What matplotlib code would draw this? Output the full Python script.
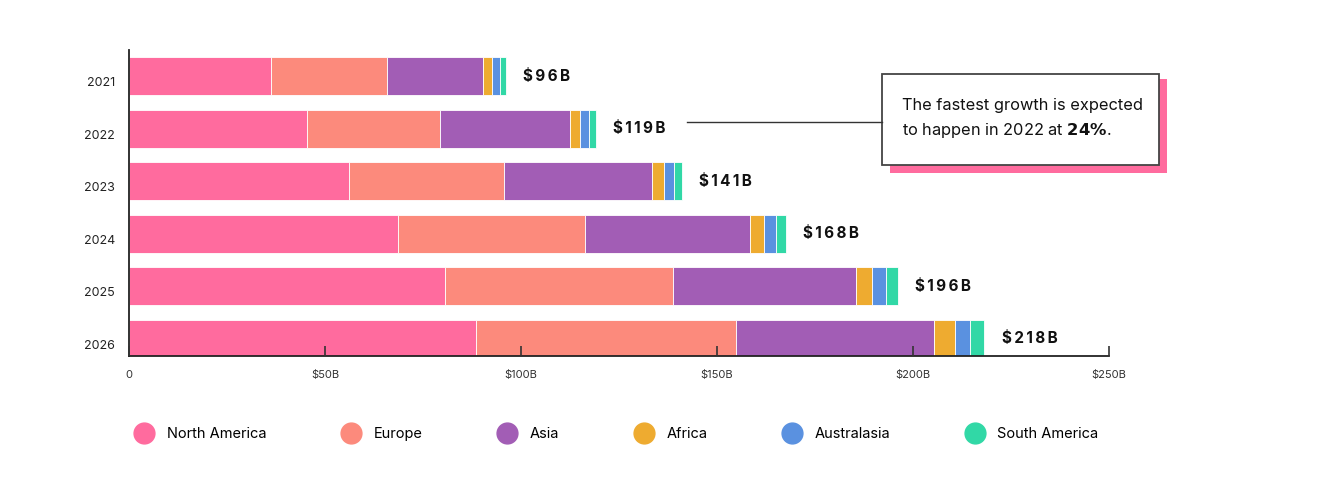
import matplotlib.pyplot as plt
import matplotlib.transforms as mtransforms
from matplotlib.patches import Rectangle
from matplotlib.lines import Line2D
import numpy as np

plt.rcParams['font.family'] = ['Inter', 'DejaVu Sans']

years = ['2021', '2022', '2023', '2024', '2025', '2026']
regions = ['North America', 'Europe', 'Asia', 'Africa', 'Australasia', 'South America']
north_america = [36.3, 45.4, 56.1, 68.7, 80.6, 88.5]
europe = [29.4, 33.9, 39.5, 47.7, 58.1, 66.4]
asia = [24.6, 33.1, 37.9, 42.1, 46.7, 50.5]
africa = [2.4, 2.65, 3.0, 3.6, 4.2, 5.2]
australasia = [1.9, 2.2, 2.5, 2.9, 3.4, 4.05]
south_america = [1.5, 1.8, 2.1, 2.6, 3.1, 3.5]
totals = [96, 119, 141, 168, 196, 218]
xticks = [0, 50, 100, 150, 200, 250]
xtick_labels = ['0', '$50B', '$100B', '$150B', '$200B', '$250B']

colors = ['#ff6b9e', '#fc8a7c', '#a25db5', '#eeab30', '#5a91e0', '#31d8a6']

W, H = 1336, 494


def main():
    fig = plt.figure(figsize=(W / 100, H / 100), dpi=100)
    ax = fig.add_axes([129 / W, 1 - 356 / H, 980 / W, 306 / H])

    series = [north_america, europe, asia, africa, australasia, south_america]
    ypos = np.arange(len(years))[::-1]
    left = np.zeros(len(years))
    for vals, c, name in zip(series, colors, regions):
        ax.barh(ypos, vals, left=left, height=0.72, color=c, edgecolor='white',
                linewidth=0.6, label=name, zorder=2)
        left += np.array(vals)

    for y, end, t in zip(ypos, left, totals):
        txt = '\u2009'.join('$' + str(t) + 'B')
        ax.annotate(txt, xy=(end, y), xytext=(12.5, 0),
                    textcoords='offset points', va='center', ha='left',
                    fontsize=11, fontweight='bold', color='#111111')

    ax.set_axisbelow(False)
    ax.set_xlim(0, 250)
    ax.set_ylim(-0.33, 5.5)
    ax.set_xticks(xticks)
    ax.set_xticklabels(xtick_labels, fontsize=8, color='#333333')
    ax.set_yticks(ypos)
    ax.set_yticklabels(years, fontsize=9, color='#222222')
    ax.tick_params(axis='x', direction='in', length=7, width=1.2, color='#333333', pad=10)
    ax.tick_params(axis='y', length=0, pad=10)
    offset = mtransforms.ScaledTranslation(0, -4 / 72, fig.dpi_scale_trans)
    for lab in ax.get_yticklabels():
        lab.set_transform(lab.get_transform() + offset)
    for s in ['top', 'right']:
        ax.spines[s].set_visible(False)
    ax.spines['left'].set_color('#222222')
    ax.spines['bottom'].set_color('#222222')
    ax.spines['left'].set_linewidth(1.3)
    ax.spines['bottom'].set_linewidth(1.3)

    # callout box
    fig.add_artist(Line2D([687 / W, 882 / W], [1 - 122 / H, 1 - 122 / H],
                          transform=fig.transFigure, color='#333333', lw=1))
    fig.add_artist(Rectangle((890 / W, 1 - 173 / H), 277 / W, 94 / H,
                             transform=fig.transFigure, facecolor='#ff6b9e',
                             edgecolor='none'))
    fig.add_artist(Rectangle((882 / W, 1 - 165 / H), 277 / W, 91 / H,
                             transform=fig.transFigure, facecolor='white',
                             edgecolor='#444444', lw=1.3))
    fig.text(902 / W, 1 - 105 / H, 'The fastest growth is expected',
             fontsize=11.8, va='center', ha='left', color='#111111')
    fig.text(902 / W, 1 - 131 / H, 'to happen in 2022 at $\\mathbf{24\\%}$.',
             fontsize=11.8, va='center', ha='left', color='#111111')

    handles = [Line2D([], [], marker='o', ms=15, color=c, linestyle='none')
               for c in colors]
    fig.legend(handles, regions, loc='center', bbox_to_anchor=(617 / W, 1 - 434 / H),
               ncol=6, frameon=False, fontsize=10.5, handletextpad=0.95,
               columnspacing=5.2, handlelength=1.2)

    fig.savefig('out.png', dpi=100)


if __name__ == "__main__":
    main()
